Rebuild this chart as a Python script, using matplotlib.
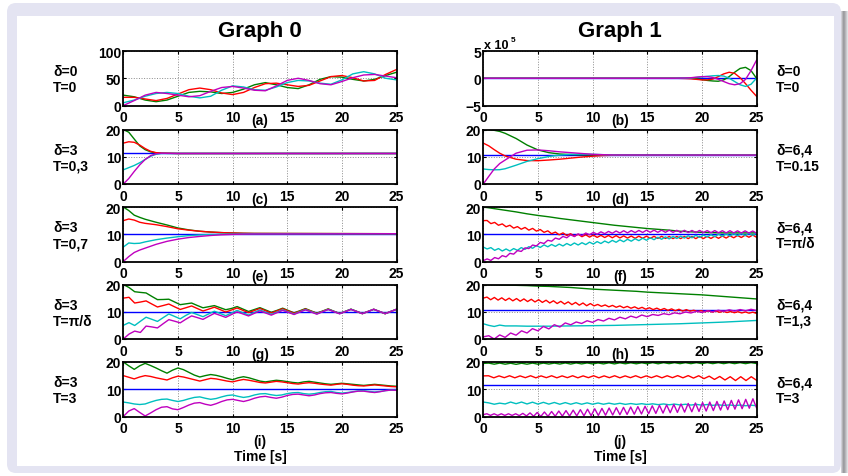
import numpy as np
import matplotlib.pyplot as plt
from matplotlib.patches import FancyBboxPatch, Rectangle

plt.rcParams['font.family'] = ['Liberation Sans', 'DejaVu Sans']
plt.rcParams['font.weight'] = 'bold'

W, H = 848, 477

# colours (old matlab colour order)
BLUE, GREEN, RED, CYAN, MAGENTA = '#0000ff', '#008000', '#ff0000', '#00bfbf', '#bf00bf'

xticks = [0, 5, 10, 15, 20, 25]

# ---- (a) delta=0, T=0 ----
t_a = np.arange(0, 26, 1)
a_green = [19, 16, 10, 7, 10, 17, 24, 26, 25, 22, 24, 30, 38, 42, 38, 33, 31, 38, 48, 53, 52, 48, 45, 48, 55, 61]
a_red = [15, 15, 12, 9, 13, 21, 29, 32, 29, 23, 20, 24, 33, 40, 41, 38, 35, 37, 45, 53, 55, 51, 45, 46, 57, 66]
a_cyan = [5, 10, 17, 22, 24, 22, 17, 14, 17, 28, 36, 34, 29, 28, 34, 42, 46, 45, 41, 39, 47, 58, 62, 58, 50, 47]
a_magenta = [0, 9, 19, 24, 22, 19, 16, 18, 26, 33, 35, 32, 28, 27, 36, 46, 50, 46, 40, 38, 44, 51, 56, 57, 54, 51]

# ---- (b) delta=0, T=0 (values in units of 1e5) ----
t_b = [0, 17, 17.5, 18, 18.5, 19, 19.5, 20, 20.5, 21, 21.5, 22, 22.5, 23, 23.5, 24, 24.5, 25]
b_blue = [0] * 18
b_green = [0, 0, 0, 0, 0, 0, -0.1, -0.25, -0.4, -0.5, -0.55, -0.3, 0.3, 1.1, 1.8, 2.0, 1.4, 0]
b_red = [0, 0, 0, -0.02, -0.05, -0.1, -0.2, -0.3, -0.3, -0.15, 0.3, 0.8, 1.1, 0.9, 0.1, -1.0, -2.2, -3.3]
b_cyan = [0, 0, 0, 0.02, 0.03, 0.05, 0.15, 0.25, 0.35, 0.45, 0.5, 0.4, 0, -0.6, -1.2, -1.5, -1.1, 0]
b_magenta = [0, 0, 0, 0.03, 0.05, 0.1, 0.2, 0.3, 0.3, 0.15, -0.2, -0.6, -1.0, -1.2, -1.0, -0.2, 1.4, 3.3]

# ---- (c) delta=3, T=0,3 ----
t_c = [0, 0.5, 1, 1.5, 2, 2.5, 3, 3.5, 4, 5, 6, 8, 25]
c_blue = 11.2
c_green = [20, 19.0, 16.5, 14.0, 12.6, 11.8, 11.4, 11.3, 11.25, 11.2, 11.2, 11.2, 11.2]
c_red = [15, 15.5, 15.3, 14.3, 13.0, 12.0, 11.5, 11.35, 11.3, 11.2, 11.2, 11.2, 11.2]
c_cyan = [5.2, 6.0, 6.8, 7.8, 9.0, 10.2, 10.9, 11.2, 11.2, 11.2, 11.2, 11.2, 11.2]
c_magenta = [0, 2.0, 4.6, 7.0, 9.0, 10.4, 11.1, 11.3, 11.25, 11.2, 11.2, 11.2, 11.2]

# ---- (d) delta=6,4, T=0.15 ----
t_d = [0, 0.5, 1, 1.5, 2, 3, 4, 5, 6, 7, 8, 9, 10, 11, 12, 25]
d_blue = 10.6
d_green = [20, 19.95, 19.7, 19.3, 18.6, 16.7, 14.3, 12.5, 11.5, 11.0, 10.8, 10.7, 10.65, 10.6, 10.6, 10.6]
d_red = [15, 14.0, 12.6, 11.3, 10.3, 9.1, 8.6, 8.55, 8.8, 9.1, 9.5, 9.9, 10.2, 10.45, 10.55, 10.6]
d_cyan = [5.5, 5.3, 5.2, 5.25, 5.6, 6.9, 8.3, 9.3, 10.1, 10.6, 10.9, 10.95, 10.9, 10.75, 10.65, 10.6]
d_magenta = [0, 2.8, 5.5, 7.5, 8.8, 11.3, 12.4, 12.5, 12.2, 11.8, 11.5, 11.2, 10.9, 10.75, 10.65, 10.6]

# ---- (e) delta=3, T=0,7 ----
t_e = [0, 0.5, 1, 1.5, 2, 3, 4, 5, 6, 7, 8, 9, 10, 11, 12, 25]
e_blue = 10.1
e_green = [20, 18.7, 17.0, 16.2, 15.5, 14.4, 13.4, 12.3, 11.6, 11.1, 10.8, 10.6, 10.45, 10.35, 10.3, 10.2]
e_red = [15, 15.6, 15.2, 14.4, 14.0, 13.5, 12.8, 12.0, 11.5, 11.1, 10.8, 10.6, 10.45, 10.35, 10.3, 10.2]
e_cyan = [5.3, 6.8, 6.6, 6.7, 7.2, 8.0, 8.6, 9.1, 9.5, 9.75, 9.9, 10.0, 10.05, 10.1, 10.15, 10.2]
e_magenta = [0, 1.8, 3.3, 4.2, 4.9, 6.3, 7.4, 8.2, 8.8, 9.2, 9.55, 9.8, 9.95, 10.05, 10.1, 10.2]

# ---- (f) delta=6,4, T=pi/delta ----
t_f = np.linspace(0, 25, 73)
t_f_green = np.arange(0, 26, 1)
f_blue = 10.0
f_green = [20.0, 19.4, 18.8, 18.2, 17.5, 16.9, 16.4, 15.8, 15.3, 14.8, 14.3, 13.8, 13.3, 12.9, 12.5, 12.1,
           11.8, 11.5, 11.1, 10.9, 10.7, 10.6, 10.5, 10.5, 10.5, 10.5]
f_red = [15.0, 15.05, 13.9, 14.35, 13.3, 13.8, 12.75, 13.3, 12.25, 12.8, 11.85, 12.5, 11.5, 12.15, 11.15,
         11.75, 10.7, 11.25, 10.2, 10.8, 9.8, 10.5, 9.55, 10.2, 9.3, 10.0, 9.1, 9.8, 8.95, 9.7, 8.85, 9.6,
         8.8, 9.55, 8.7, 9.5, 8.65, 9.4, 8.6, 9.35, 8.5, 9.3, 8.5, 9.3, 8.5, 9.25, 8.45, 9.25, 8.45, 9.2,
         8.4, 9.2, 8.4, 9.2, 8.4, 9.2, 8.4, 9.2, 8.4, 9.25, 8.45, 9.3, 8.5, 9.35, 8.6, 9.45, 8.7, 9.55,
         8.8, 9.65, 8.9, 9.7, 8.9]
f_cyan = [5.3, 4.6, 5.1, 4.1, 4.75, 3.85, 4.6, 3.85, 4.75, 4.1, 5.1, 4.45, 5.45, 4.85, 5.85, 5.15, 6.1,
          5.4, 6.25, 5.55, 6.4, 5.7, 6.6, 5.9, 6.8, 6.05, 6.9, 6.2, 7.1, 6.4, 7.3, 6.6, 7.5, 6.85, 7.75,
          7.05, 7.95, 7.25, 8.15, 7.45, 8.35, 7.65, 8.55, 7.8, 8.7, 8.0, 8.9, 8.15, 9.05, 8.3, 9.2, 8.45,
          9.3, 8.6, 9.45, 8.7, 9.6, 8.85, 9.7, 9.0, 9.85, 9.1, 10.0, 9.25, 10.1, 9.35, 10.2, 9.45, 10.3,
          9.5, 10.35, 9.6, 10.4]
f_magenta = [0.3, 0.95, 0.4, 1.45, 1.0, 2.15, 1.7, 3.0, 2.7, 4.0, 3.7, 5.0, 4.75, 6.05, 5.7, 7.0, 6.6,
             7.8, 7.45, 8.6, 8.15, 9.2, 8.7, 9.8, 9.15, 10.1, 9.5, 10.45, 9.8, 10.7, 10.0, 10.9, 10.2,
             11.05, 10.35, 11.2, 10.45, 11.3, 10.5, 11.35, 10.6, 11.4, 10.65, 11.5, 10.7, 11.5, 10.7,
             11.5, 10.7, 11.5, 10.7, 11.45, 10.65, 11.45, 10.65, 11.4, 10.6, 11.4, 10.6, 11.35, 10.55,
             11.35, 10.55, 11.3, 10.5, 11.3, 10.5, 11.25, 10.45, 11.25, 10.45, 11.2, 10.4]

# ---- (g) delta=3, T=pi/delta ----
t_g = np.linspace(0, 25, 49)
g_blue = 10.0
g_green = [20.0, 18.9, 17.35, 17.1, 16.9, 15.65, 14.45, 14.5, 14.6, 13.6, 12.6, 12.9, 13.2, 12.3, 11.45,
           11.85, 12.25, 11.5, 10.75, 11.2, 11.9, 11.0, 10.1, 10.8, 11.5, 10.65, 9.8, 10.5, 11.3, 10.45,
           9.6, 10.35, 11.15, 10.3, 9.5, 10.25, 11.05, 10.2, 9.4, 10.15, 10.95, 10.15, 9.35, 10.1, 10.9,
           10.1, 9.3, 10.1, 10.9]
g_red = [15.0, 15.3, 13.2, 13.56, 13.98, 12.85, 11.75, 12.28, 12.84, 11.83, 10.84, 11.47, 12.12, 11.19,
         10.27, 10.96, 11.67, 10.79, 9.91, 10.64, 11.38, 10.53, 9.68, 10.44, 11.2, 10.37, 9.54, 10.32,
         11.09, 10.27, 9.45, 10.2, 11.0, 10.2, 9.4, 10.15, 10.95, 10.1, 9.35, 10.1, 10.9, 10.1, 9.3, 10.1,
         10.9, 10.1, 9.3, 10.1, 10.9]
g_cyan = [5.0, 6.0, 4.95, 6.5, 7.99, 7.24, 6.45, 7.83, 9.18, 8.3, 7.4, 8.67, 9.73, 8.97, 8.19, 9.2, 10.2,
          9.39, 8.57, 9.53, 10.5, 9.65, 8.8, 9.74, 10.68, 9.82, 9.05, 9.88, 10.7, 9.92, 9.14, 10.0, 10.8,
          10.05, 9.25, 10.05, 10.85, 10.1, 9.3, 10.1, 10.9, 10.1, 9.3, 10.1, 10.9, 10.1, 9.3, 10.1, 10.9]
g_magenta = [0.0, 1.8, 2.9, 2.4, 4.74, 4.44, 4.06, 5.61, 7.1, 6.54, 5.93, 7.27, 8.48, 7.86, 7.2, 8.32,
             9.41, 8.69, 7.94, 8.98, 9.95, 9.21, 8.46, 9.4, 10.32, 9.54, 8.75, 9.66, 10.51, 9.75, 8.99,
             9.85, 10.7, 9.9, 9.1, 10.0, 10.8, 10.05, 9.25, 10.05, 10.85, 10.1, 9.3, 10.1, 10.9, 10.1, 9.3,
             10.1, 10.9]

# ---- (h) delta=6,4, T=1,3 ----
t_h_red = np.linspace(0, 25, 75)
t_h_mag = np.linspace(0, 25, 51)
t_h_green = np.arange(0, 26, 1)
t_h_cyan = [0, 0.5, 1, 1.5, 2, 3, 4, 5, 6, 8, 10, 12, 14, 16, 18, 20, 22, 24, 25]
h_blue = 10.6
h_green = [20.0, 19.9, 19.8, 19.7, 19.6, 19.4, 19.3, 19.1, 18.9, 18.6, 18.3, 18.1, 17.9, 17.7, 17.5, 17.2,
           17.0, 16.8, 16.6, 16.4, 16.2, 15.9, 15.6, 15.3, 15.0, 14.7]
h_red = [15.0, 15.38, 14.41, 15.25, 14.28, 15.11, 14.15, 14.98, 14.01, 14.84, 13.87, 14.71, 13.74, 14.57,
         13.6, 14.43, 13.43, 14.23, 13.23, 14.02, 13.02, 13.82, 12.82, 13.62, 12.62, 13.42, 12.42, 13.21,
         12.21, 13.01, 12.16, 12.68, 11.99, 12.5, 11.81, 12.33, 11.64, 12.15, 11.46, 11.97, 11.29, 11.8,
         11.11, 11.62, 10.94, 11.46, 10.79, 11.32, 10.66, 11.19, 10.52, 11.05, 10.39, 10.92, 10.25, 10.78,
         10.22, 10.55, 10.08, 10.41, 9.97, 10.33, 9.89, 10.25, 9.81, 10.16, 9.72, 10.08, 9.64, 10.0,
         9.56, 9.92, 9.48, 9.84, 9.4]
h_cyan = [5.6, 5.0, 4.6, 5.1, 4.8, 4.8, 4.7, 4.7, 4.7, 4.8, 4.9, 5.0, 5.2, 5.4, 5.6, 5.9, 6.2, 6.6, 6.8]
h_magenta = [0.8, 1.2, 0.0, 1.5, 0.6, 2.2, 1.4, 3.0, 2.2, 3.8, 3.0, 4.6, 3.7, 5.25, 4.4, 5.9, 5.2, 6.25,
             5.7, 6.7, 6.1, 7.15, 6.6, 7.6, 7.0, 8.0, 7.4, 8.4, 7.8, 8.8, 8.2, 9.0, 8.65, 9.3, 8.95, 9.6,
             9.25, 9.9, 9.55, 10.15, 9.75, 10.35, 9.95, 10.55, 10.15, 10.7, 10.25, 10.8, 10.35, 10.9, 10.45]

# ---- (i) delta=3, T=3 ----
t_i = np.linspace(0, 25, 51)
i_blue = 10.0
i_green = [20.0, 18.6, 17.3, 18.6, 19.5, 18.7, 17.8, 16.8, 15.9, 17.0, 17.8, 17.2, 16.2, 15.2, 14.5, 15.0,
           15.4, 15.1, 14.6, 14.0, 13.5, 14.2, 14.6, 14.2, 13.6, 13.0, 12.7, 13.0, 13.3, 13.1, 12.8, 12.5,
           12.3, 12.7, 12.9, 12.6, 12.3, 12.0, 11.8, 12.0, 12.2, 12.0, 11.8, 11.6, 11.4, 11.6, 11.8, 11.6,
           11.4, 11.2, 11.1]
i_red = [15.0, 14.4, 13.8, 14.5, 15.0, 14.7, 14.2, 13.8, 13.4, 14.2, 14.8, 14.5, 14.0, 13.5, 13.0, 13.5,
         14.0, 13.8, 13.4, 13.0, 12.7, 13.2, 13.6, 13.3, 12.9, 12.5, 12.3, 12.6, 12.9, 12.7, 12.4, 12.1,
         11.9, 12.2, 12.4, 12.2, 11.9, 11.7, 11.5, 11.8, 12.0, 11.8, 11.5, 11.3, 11.2, 11.4, 11.6, 11.4,
         11.2, 11.0, 10.9]
i_cyan = [5.3, 5.0, 4.6, 4.4, 4.6, 5.3, 5.9, 6.3, 6.4, 5.9, 5.5, 5.9, 6.5, 7.0, 7.2, 6.7, 6.3, 6.6, 7.2,
          7.7, 7.9, 7.4, 7.0, 7.3, 7.9, 8.3, 8.4, 8.0, 7.7, 7.9, 8.4, 8.7, 8.8, 8.4, 8.2, 8.4, 8.8, 9.1,
          9.2, 8.8, 8.6, 8.8, 9.1, 9.4, 9.5, 9.2, 9.0, 9.2, 9.5, 9.7, 9.7]
i_magenta = [0.0, 2.0, 2.9, 1.5, 0.2, 1.3, 2.5, 3.4, 3.6, 2.8, 2.5, 3.3, 4.2, 4.9, 5.1, 4.5, 4.1, 4.7,
             5.5, 6.1, 6.3, 5.9, 5.5, 6.0, 6.7, 7.2, 7.4, 7.0, 6.7, 7.1, 7.7, 8.1, 8.2, 7.9, 7.6, 7.9, 8.4,
             8.7, 8.8, 8.5, 8.3, 8.6, 9.0, 9.3, 9.3, 9.0, 8.8, 9.1, 9.5, 9.7, 9.6]

# ---- (j) delta=6,4, T=3 ----
t_j_red = np.linspace(0, 25, 53)
t_j = np.linspace(0, 25, 51)
t_j_mag = np.linspace(0, 25, 77)
j_blue = 11.5
j_green = [19.5, 19.6, 19.2, 19.6, 19.2, 19.55, 19.15, 19.55, 19.2, 19.6, 19.2, 19.6, 19.25, 19.6, 19.25,
           19.65, 19.25, 19.65, 19.3, 19.65, 19.3, 19.65, 19.3, 19.7, 19.3, 19.7, 19.35, 19.7, 19.35, 19.7,
           19.35, 19.75, 19.35, 19.75, 19.4, 19.75, 19.4, 19.75, 19.4, 19.75, 19.4, 19.75, 19.4, 19.75,
           19.4, 19.75, 19.4, 19.75, 19.4, 19.75, 19.45]
j_red = [14.9, 14.95, 14.2, 14.9, 14.25, 14.95, 14.2, 14.9, 14.25, 14.95, 14.2, 14.9, 14.25, 14.95, 14.2,
         14.9, 14.25, 14.95, 14.2, 14.9, 14.25, 14.95, 14.2, 14.9, 14.25, 14.95, 14.2, 14.9, 14.25, 14.95,
         14.2, 14.9, 14.25, 14.95, 14.2, 14.95, 14.25, 15.0, 14.2, 15.0, 14.1, 14.95, 13.9, 14.8, 13.6,
         14.7, 13.4, 14.6, 13.2, 14.6, 13.2, 14.6, 13.3]
j_cyan = [5.3, 5.0, 4.5, 4.9, 4.6, 5.3, 4.7, 5.3, 4.6, 5.25, 4.55, 5.2, 4.55, 5.15, 4.5, 5.1, 4.5, 5.05,
          4.5, 5.0, 4.5, 4.95, 4.5, 4.9, 4.5, 4.85, 4.45, 4.75, 4.45, 4.7, 4.4, 4.65, 4.35, 4.6, 4.3, 4.55,
          4.25, 4.5, 4.2, 4.45, 4.15, 4.4, 4.1, 4.3, 4.05, 4.25, 4.0, 4.2, 3.95, 4.15, 3.95]
j_magenta = [0.7, 1.0, 0.4, 1.0, 0.4, 1.0, 0.4, 1.0, 0.4, 1.0, 0.34, 1.15, 0.21, 1.32, 0.08, 1.48, 0.01,
             1.65, 0.06, 1.83, 0.09, 2.0, 0.14, 2.16, 0.17, 2.34, 0.22, 2.51, 0.25, 2.68, 0.29, 2.84, 0.37,
             2.98, 0.46, 3.11, 0.55, 3.24, 0.65, 3.36, 0.75, 3.49, 0.84, 3.62, 0.93, 3.76, 1.02, 3.92,
             1.14, 4.1, 1.26, 4.26, 1.38, 4.43, 1.5, 4.6, 1.61, 4.78, 1.74, 4.95, 1.85, 5.12, 2.0, 5.31,
             2.17, 5.52, 2.35, 5.71, 2.51, 5.91, 2.69, 6.11, 2.86, 6.3, 3.03, 6.5, 3.2]

# row labels
left_labels = [('δ=0', 'T=0'), ('δ=3', 'T=0,3'), ('δ=3', 'T=0,7'), ('δ=3', 'T=π/δ'), ('δ=3', 'T=3')]
right_labels = [('δ=0', 'T=0'), ('δ=6,4', 'T=0.15'), ('δ=6,4', 'T=π/δ'), ('δ=6,4', 'T=1,3'), ('δ=6,4', 'T=3')]
letters = ['(a)', '(b)', '(c)', '(d)', '(e)', '(f)', '(g)', '(h)', '(i)', '(j)']

fig = plt.figure(figsize=(W / 100, H / 100), dpi=100)

# beamer style frame
bg = fig.add_axes([0, 0, 1, 1], zorder=-10)
bg.set_xlim(0, W)
bg.set_ylim(H, 0)
bg.axis('off')
for x, c in [(841, '#cfcfd6'), (842, '#b4b4b8'), (843, '#9c9ca0'), (844, '#a2a2a6'),
             (845, '#b6b6ba'), (846, '#cacace'), (847, '#e0e0e2')]:
    bg.add_patch(Rectangle((x, 12), 1, 462, fc=c, ec='none'))
bg.add_patch(FancyBboxPatch((7, 4), 834, 470, boxstyle='round,pad=0,rounding_size=9',
                            fc='#e4e4f2', ec='none'))
bg.add_patch(Rectangle((17, 17), 817, 450, fc='white', ec='none'))


def ftext(x, y, s, **kw):
    fig.text(x / W, 1 - y / H, s, **kw)


LEFT_X, RIGHT_X, AW, AH = 123.3, 483.3, 273.2, 54.5
tops = [52, 130.5, 208, 285.5, 363]
LW = 1.0
FS = 10


def make_ax(x0, top, ylim, yticks):
    ax = fig.add_axes([x0 / W, 1 - (top + AH) / H, AW / W, AH / H])
    ax.set_xlim(0, 25)
    ax.set_ylim(*ylim)
    ax.set_xticks(xticks)
    ax.set_yticks(yticks)
    ax.grid(True, linestyle=':', color='#8a8a8a', linewidth=0.7)
    ax.tick_params(direction='in', length=2.5, width=0.8, labelsize=FS, top=True, right=True)
    ax.tick_params(axis='x', pad=3.5)
    ax.tick_params(axis='y', pad=1.5)
    for s in ax.spines.values():
        s.set_linewidth(1.3)
    return ax


def draw(ax, blue, curves):
    if blue is not None:
        ax.plot([0, 25], [blue, blue], color=BLUE, lw=LW)
    for t, v, c in curves:
        ax.plot(t, v, color=c, lw=LW)


ax = make_ax(LEFT_X, tops[0], (0, 100), [0, 50, 100])
draw(ax, None, [(t_a, a_green, GREEN), (t_a, a_red, RED), (t_a, a_cyan, CYAN), (t_a, a_magenta, MAGENTA)])

ax = make_ax(RIGHT_X, tops[0], (-5, 5), [-5, 0, 5])
ax.plot(t_b, b_blue, color=BLUE, lw=LW)
draw(ax, None, [(t_b, b_green, GREEN), (t_b, b_red, RED), (t_b, b_cyan, CYAN), (t_b, b_magenta, MAGENTA)])

ax = make_ax(LEFT_X, tops[1], (0, 20), [0, 10, 20])
draw(ax, c_blue, [(t_c, c_green, GREEN), (t_c, c_red, RED), (t_c, c_cyan, CYAN), (t_c, c_magenta, MAGENTA)])

ax = make_ax(RIGHT_X, tops[1], (0, 20), [0, 10, 20])
draw(ax, d_blue, [(t_d, d_green, GREEN), (t_d, d_red, RED), (t_d, d_cyan, CYAN), (t_d, d_magenta, MAGENTA)])

ax = make_ax(LEFT_X, tops[2], (0, 20), [0, 10, 20])
draw(ax, e_blue, [(t_e, e_green, GREEN), (t_e, e_red, RED), (t_e, e_cyan, CYAN), (t_e, e_magenta, MAGENTA)])

ax = make_ax(RIGHT_X, tops[2], (0, 20), [0, 10, 20])
draw(ax, f_blue, [(t_f_green, f_green, GREEN), (t_f, f_red, RED), (t_f, f_cyan, CYAN), (t_f, f_magenta, MAGENTA)])

ax = make_ax(LEFT_X, tops[3], (0, 20), [0, 10, 20])
draw(ax, g_blue, [(t_g, g_green, GREEN), (t_g, g_red, RED), (t_g, g_cyan, CYAN), (t_g, g_magenta, MAGENTA)])

ax = make_ax(RIGHT_X, tops[3], (0, 20), [0, 10, 20])
draw(ax, h_blue, [(t_h_green, h_green, GREEN), (t_h_red, h_red, RED), (t_h_cyan, h_cyan, CYAN),
                  (t_h_mag, h_magenta, MAGENTA)])

ax = make_ax(LEFT_X, tops[4], (0, 20), [0, 10, 20])
draw(ax, i_blue, [(t_i, i_green, GREEN), (t_i, i_red, RED), (t_i, i_cyan, CYAN), (t_i, i_magenta, MAGENTA)])

ax = make_ax(RIGHT_X, tops[4], (0, 20), [0, 10, 20])
draw(ax, j_blue, [(t_j, j_green, GREEN), (t_j_red, j_red, RED), (t_j, j_cyan, CYAN), (t_j_mag, j_magenta, MAGENTA)])

# texts
lc = LEFT_X + AW / 2
rc = RIGHT_X + AW / 2
ftext(lc, 32, 'Graph 0', fontsize=16, ha='center', va='center')
ftext(rc, 32, 'Graph 1', fontsize=16, ha='center', va='center')
ftext(484, 46, 'x 10', fontsize=9, va='center')
ftext(510.5, 40, '5', fontsize=6, va='center')

for r in range(5):
    mid = tops[r] + AH / 2
    ftext(53, mid - 7, left_labels[r][0], fontsize=FS, va='center')
    ftext(53, mid + 9, left_labels[r][1], fontsize=FS, va='center')
    ftext(776, mid - 7, right_labels[r][0], fontsize=FS, va='center')
    ftext(776, mid + 9, right_labels[r][1], fontsize=FS, va='center')
    bottom = tops[r] + AH
    off = 25 if r == 4 else 15
    ftext(lc, bottom + off, letters[2 * r], fontsize=FS, ha='center', va='center')
    ftext(rc, bottom + off, letters[2 * r + 1], fontsize=FS, ha='center', va='center')

ftext(lc, tops[4] + AH + 40, 'Time [s]', fontsize=FS, ha='center', va='center')
ftext(rc, tops[4] + AH + 40, 'Time [s]', fontsize=FS, ha='center', va='center')

fig.savefig('out.png', dpi=100)
